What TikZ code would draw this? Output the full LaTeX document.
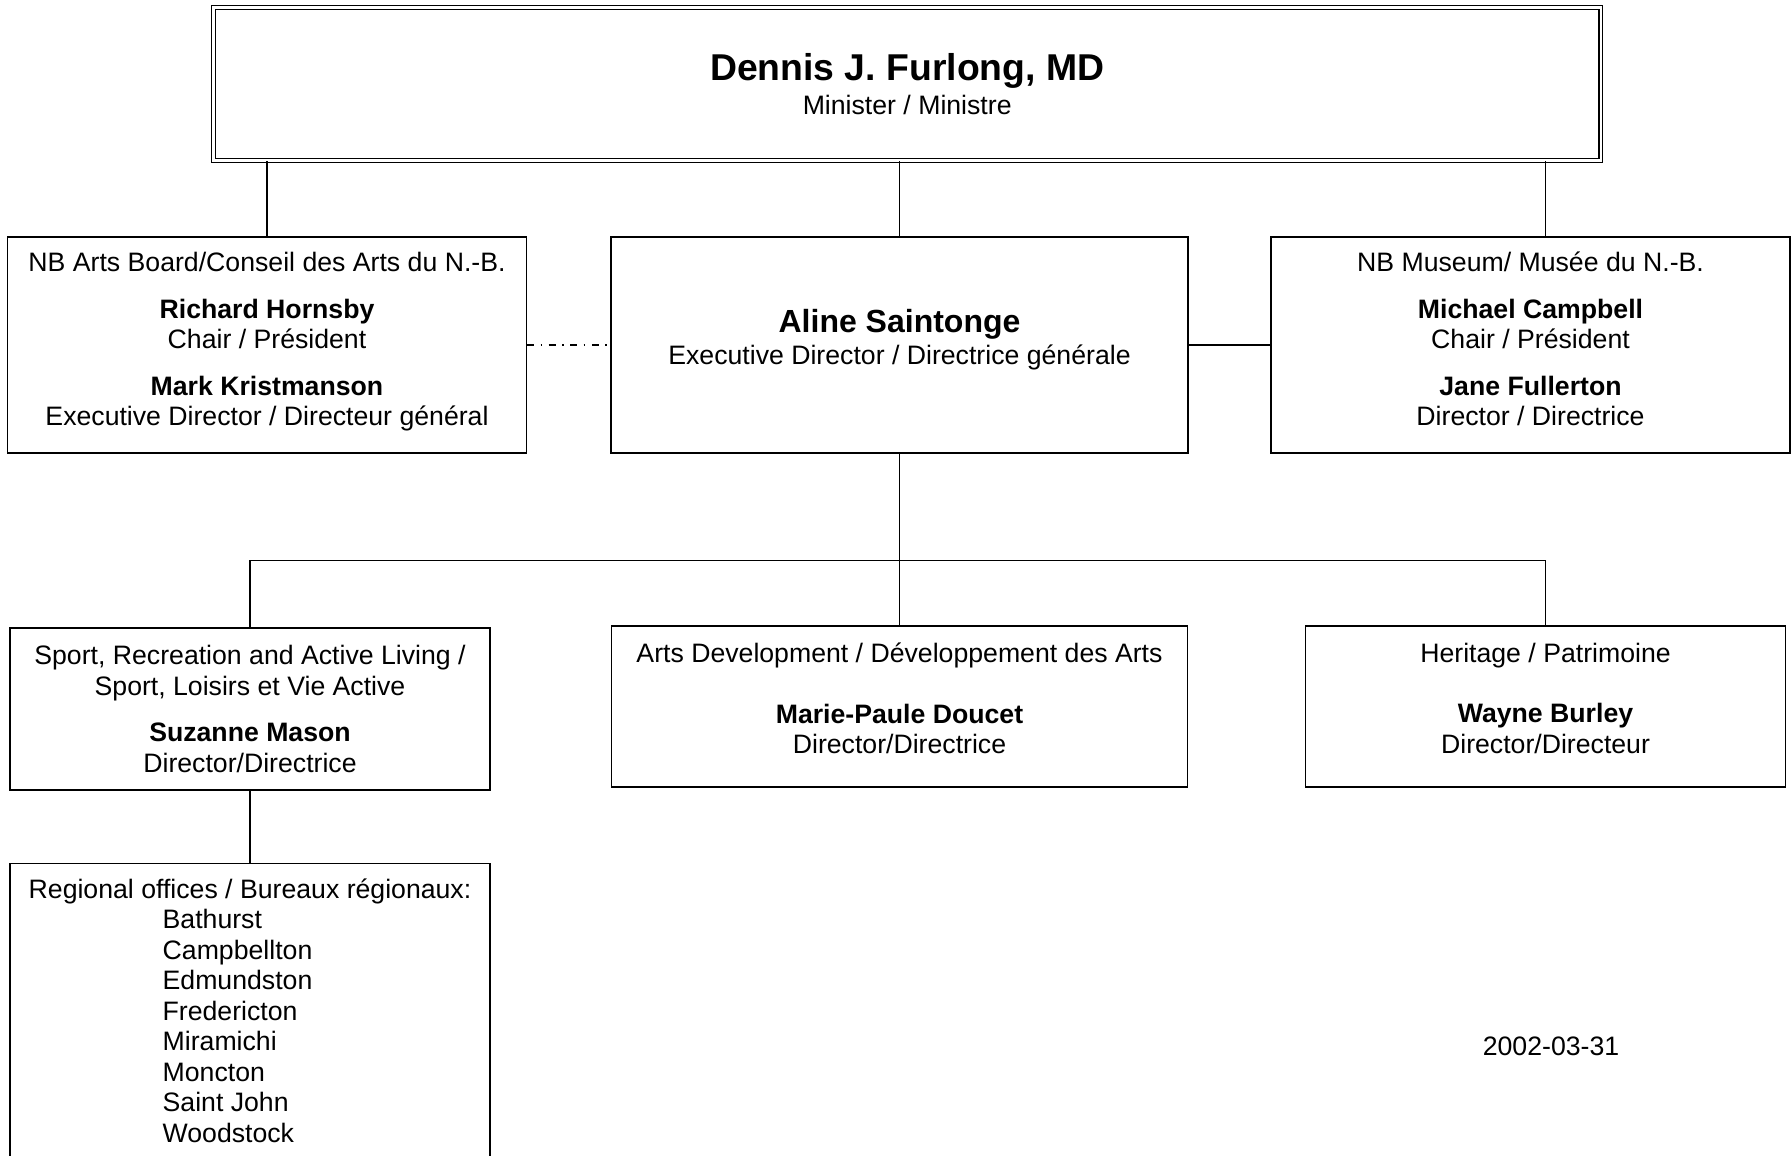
\documentclass[tikz,border=0pt]{standalone}
\usepackage{fontspec}
\setmainfont{Liberation Sans}
\usetikzlibrary{positioning}

\newcommand{\orgfont}{\fontsize{13.33}{15.25}\selectfont}
\newcommand{\headfont}{\fontsize{18.67}{21}\selectfont\bfseries}
\newcommand{\leadfont}{\fontsize{16}{18}\selectfont\bfseries}
% depth under the last line, to lift the text in its box
\newcommand{\lift}[1]{\rule[-#1]{0pt}{0pt}}

\begin{document}
\begin{tikzpicture}[
	x=0.5pt, y=-0.5pt,
	line width=0.6pt,
	box/.style={draw, align=center, inner sep=0pt, font=\orgfont},
	headbox/.style={box, double, double distance=1.2pt},
	dotlink/.style={dash pattern=on 3.4pt off 3.3pt on 0.7pt off 3.4pt},
]
	\useasboundingbox (0,0) rectangle (1791,1155);

	\node (minister) [headbox, minimum width=693.6pt, minimum height=76.5pt] at (907.2,84.2)
		{{\headfont Dennis J. Furlong, MD}\\[2pt]Minister / Ministre};

	\node (board) [box, minimum width=259.5pt, minimum height=108pt] at (267,345)
		{NB Arts Board/Conseil des Arts du N.-B.\\[8pt]
		\textbf{Richard Hornsby}\\Chair / Président\\[8pt]
		\textbf{Mark Kristmanson}\\Executive Director / Directeur général\lift{6pt}};
	\node (exec) [box, minimum width=288.5pt, minimum height=108pt] at (899.5,345)
		{{\leadfont Aline Saintonge}\\[1.1pt]Executive Director / Directrice générale\lift{8pt}};
	\node (museum) [box, minimum width=259.5pt, minimum height=108pt] at (1530.5,345)
		{NB Museum/ Musée du N.-B.\\[8pt]
		\textbf{Michael Campbell}\\Chair / Président\\[8pt]
		\textbf{Jane Fullerton}\\Director / Directrice\lift{6pt}};

	\node (sport) [box, minimum width=240pt, minimum height=81pt] at (250,709)
		{Sport, Recreation and Active Living /\\Sport, Loisirs et Vie Active\\[8pt]
		\textbf{Suzanne Mason}\\Director/Directrice};
	\node (arts) [box, minimum width=288pt, minimum height=80.5pt] at (899.5,706.5)
		{Arts Development / Développement des Arts\\[15pt]
		\textbf{Marie-Paule Doucet}\\Director/Directrice\lift{8.2pt}};
	\node (heritage) [box, minimum width=240pt, minimum height=80.5pt] at (1545.5,706.5)
		{Heritage / Patrimoine\\[15pt]
		\textbf{Wayne Burley}\\Director/Directeur\lift{8.2pt}};

	\node (regional) [box, align=left, minimum width=240pt, inner ysep=7.6pt, below=36pt of sport]
		{Regional offices / Bureaux régionaux:\\
		\hspace*{67pt}Bathurst\\
		\hspace*{67pt}Campbellton\\
		\hspace*{67pt}Edmundston\\
		\hspace*{67pt}Fredericton\\
		\hspace*{67pt}Miramichi\\
		\hspace*{67pt}Moncton\\
		\hspace*{67pt}Saint John\\
		\hspace*{67pt}Woodstock\lift{10pt}};

	\node (date) [font=\orgfont] at (1551,1046) {2002-03-31};

	\coordinate [below=53.5pt of exec.south] (split);

	\draw (board.north) -- (board.north |- minister.south);
	\draw (exec.north) -- (exec.north |- minister.south);
	\draw ([xshift=7.5pt]museum.north) -- ([xshift=7.5pt]museum.north |- minister.south);
	\draw[dotlink] (board.east) -- (exec.west);
	\draw (exec.east) -- (museum.west);
	\draw (exec.south) -- (arts.north);
	\draw (sport.north) |- (split) -| (heritage.north);
	\draw (sport.south) -- (regional.north);
\end{tikzpicture}
\end{document}
